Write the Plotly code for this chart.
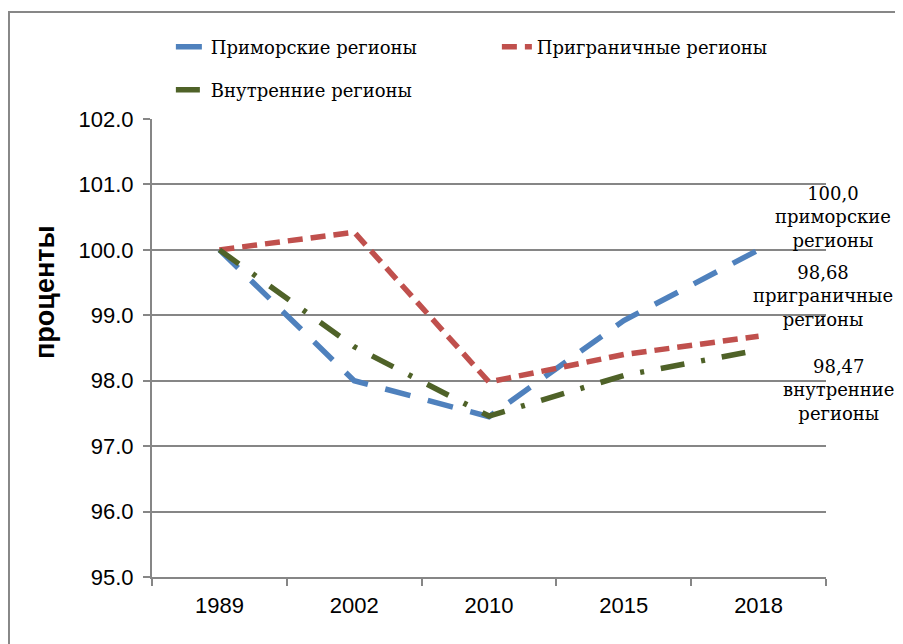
import plotly.graph_objects as go

anos = ['1989', '2002', '2010', '2015', '2018']
primorskie = [100.0, 98.0, 97.45, 98.92, 100.0]
prigranichnye = [100.0, 100.27, 97.98, 98.4, 98.68]
vnutrennie = [100.0, 98.52, 97.46, 98.08, 98.47]

nomes = ['Приморские регионы', 'Приграничные регионы', 'Внутренние регионы']
rotulos = ['100,0<br>приморские<br>регионы',
           '98,68<br>приграничные<br>регионы',
           '98,47<br>внутренние<br>регионы']

cores = ['#4F81BD', '#C0504D', '#4F6228']
tracos = ['26px,18px', '15px,8px', '24px,17px,4px,17px']
legendas = ['legend', 'legend', 'legend2']

fig = go.Figure()
for nome, serie, cor, traco, leg in zip(nomes, [primorskie, prigranichnye, vnutrennie], cores, tracos, legendas):
    fig.add_trace(go.Scatter(
        x=anos, y=serie, name=nome, mode='lines',
        line=dict(color=cor, width=5.5, dash=traco),
        legend=leg,
    ))

# rotulos de dados a direita do ultimo ponto (x pelo indice da categoria)
ultimo = len(anos) - 1
deslocamentos = [(74, 33), (64, 40), (80, -40)]
for serie, texto, (dx, dy) in zip([primorskie, prigranichnye, vnutrennie], rotulos, deslocamentos):
    fig.add_annotation(
        x=ultimo, y=serie[-1], text=texto, showarrow=False,
        xanchor='center', yanchor='middle', xshift=dx, yshift=dy,
        font=dict(family='DejaVu Serif', size=18, color='black'),
    )

# titulo do eixo y (acima do centro, como no original)
fig.add_annotation(
    xref='paper', yref='paper', x=-0.159, y=0.622, text='<b>проценты</b>',
    textangle=-90, showarrow=False, xanchor='center', yanchor='middle',
    font=dict(family='Liberation Sans', size=27, color='black'),
)

fonte_legenda = dict(family='DejaVu Serif', size=18, color='black')
fonte_eixo = dict(family='Liberation Sans Narrow, Liberation Sans', size=22, color='black')

fig.update_layout(
    width=903, height=644,
    margin=dict(l=144, r=85, t=111, b=75, autoexpand=False),
    plot_bgcolor='white', paper_bgcolor='white',
    showlegend=True,
    legend=dict(orientation='h', x=0.028, y=1.157, xanchor='left', yanchor='middle',
                entrywidth=281, font=fonte_legenda, bgcolor='rgba(0,0,0,0)'),
    legend2=dict(orientation='h', x=0.028, y=1.063, xanchor='left', yanchor='middle',
                 font=fonte_legenda, bgcolor='rgba(0,0,0,0)'),
    xaxis=dict(
        type='category', range=[-0.5, 4.5], tickson='boundaries',
        showgrid=False, showline=True, linecolor='#868686', linewidth=2,
        ticks='outside', ticklen=7, tickcolor='#868686', tickwidth=1.5,
        ticklabelstandoff=8, tickfont=fonte_eixo,
    ),
    yaxis=dict(
        range=[95, 102], dtick=1, tickformat='.1f',
        showgrid=True, gridcolor='#868686', gridwidth=2,
        showline=True, linecolor='#868686', linewidth=2,
        ticks='outside', ticklen=7, tickcolor='#868686', tickwidth=1.5,
        zeroline=False, ticklabelstandoff=5, tickfont=fonte_eixo,
    ),
    shapes=[dict(type='rect', xref='paper', yref='paper',
                 x0=-0.2122, x1=1.3, y0=-0.3, y1=1.2336,
                 line=dict(color='#878787', width=2), layer='below')],
)

fig.write_html('out.html')
